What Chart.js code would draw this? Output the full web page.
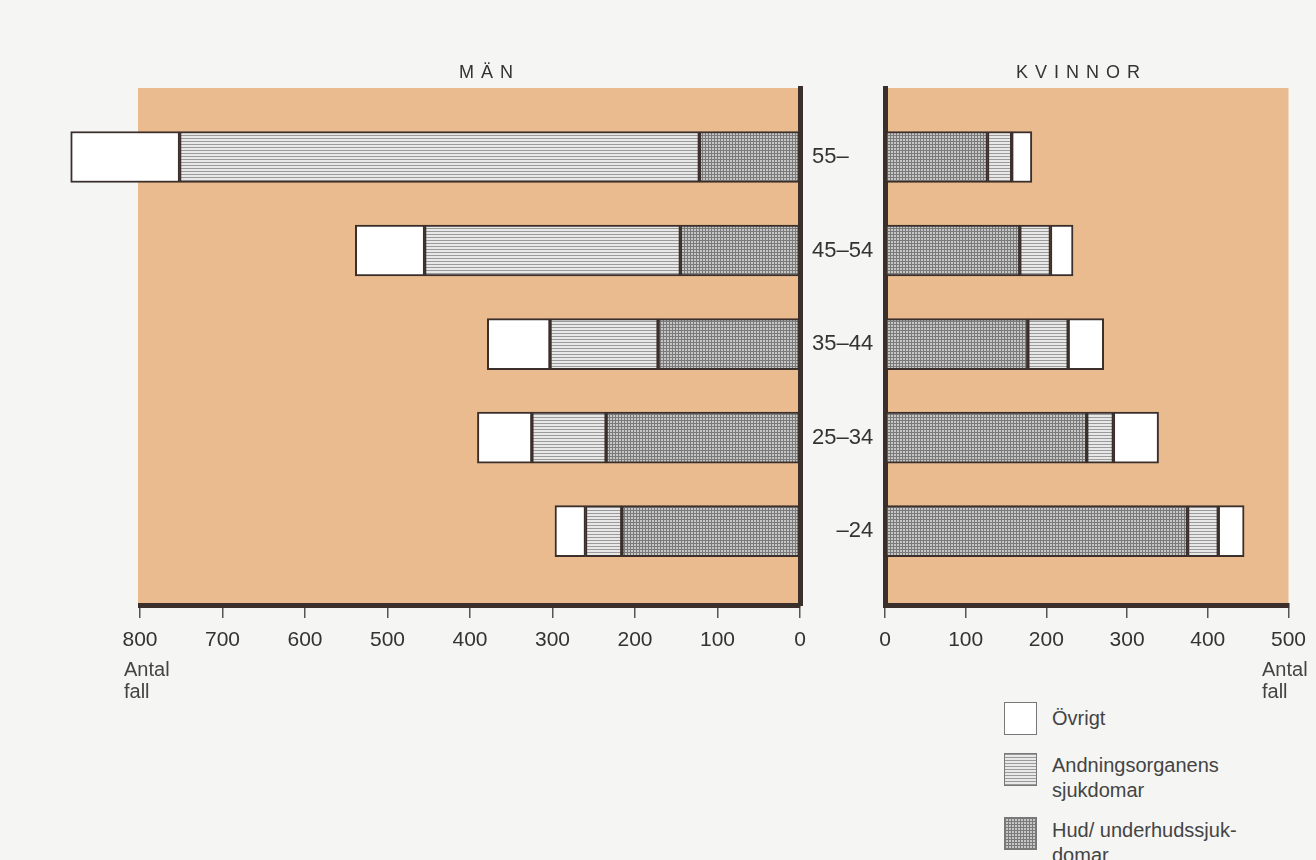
<!DOCTYPE html>
<html>
<head>
<meta charset="utf-8">
<script src="https://cdn.jsdelivr.net/npm/chart.js@4.4.1/dist/chart.umd.min.js"></script>
<style>
  body { margin: 0; width: 1316px; height: 860px; background: #f5f5f3; position: relative; overflow: hidden;
         font-family: "Liberation Sans", Arial, sans-serif; color: #333; }
  canvas { position: absolute; top: 0; }
  #men { left: 0; }
  #women { left: 860px; }
  .title { position: absolute; top: 62px; font-size: 18px; letter-spacing: 7px; color: #333; }
  .unit { position: absolute; font-size: 20px; line-height: 22px; color: #444; }
  .legend { position: absolute; left: 1004px; font-size: 20px; line-height: 25px; color: #444; }
  .legend .box { position: absolute; left: 0; width: 31px; height: 31px; border: 1px solid #777; }
  .legend .txt { position: absolute; left: 48px; white-space: nowrap; }
</style>
</head>
<body>
<canvas id="men" width="900" height="700"></canvas>
<canvas id="women" width="456" height="700"></canvas>

<div class="title" style="left:459px">MÄN</div>
<div class="title" style="left:1016px">KVINNOR</div>
<div class="unit" style="left:124px; top:658px">Antal<br>fall</div>
<div class="unit" style="left:1262px; top:658px">Antal<br>fall</div>

<div class="legend" style="top:702px"><div class="box" style="background:#fff"></div><div class="txt" style="top:4px">Övrigt</div></div>
<div class="legend" style="top:753px"><div class="box" style="background:repeating-linear-gradient(to bottom,#9a9a9a 0 1px,#e8e8e8 1px 3px)"></div><div class="txt" style="top:0">Andningsorganens<br>sjukdomar</div></div>
<div class="legend" style="top:817px"><div class="box" style="background:repeating-linear-gradient(to bottom,#7a7a7a 0 1px,transparent 1px 3px),repeating-linear-gradient(to right,#7a7a7a 0 1px,#c6c6c6 1px 3px)"></div><div class="txt" style="top:1px">Hud/ underhudssjuk-<br>domar</div></div>

<script>
// age groups, top to bottom
const ages = ['55–', '45–54', '35–44', '25–34', '    –24'];

// number of cases, men
const menHud = [122, 145, 172, 235, 216];
const menAndning = [630, 310, 131, 90, 44];
const menOvrigt = [132, 84, 76, 66, 37];

// number of cases, women
const womenHud = [127, 167, 177, 250, 375];
const womenAndning = [30, 38, 50, 33, 38];
const womenOvrigt = [25, 28, 44, 56, 32];

const menTicks = [0, 100, 200, 300, 400, 500, 600, 700, 800];
const womenTicks = [0, 100, 200, 300, 400, 500];

const ink = '#3a2f2b';
const panel = '#e9bb8f';

function tile(w, h, draw) {
    const c = document.createElement('canvas');
    c.width = w; c.height = h;
    const g = c.getContext('2d');
    draw(g);
    return g.createPattern(c, 'repeat');
}
// horizontal hatching
const andningFill = tile(3, 3, g => {
    g.fillStyle = '#e8e8e8'; g.fillRect(0, 0, 3, 3);
    g.fillStyle = '#9a9a9a'; g.fillRect(0, 0, 3, 1);
});
// fine grid
const hudFill = tile(3, 3, g => {
    g.fillStyle = '#c6c6c6'; g.fillRect(0, 0, 3, 3);
    g.fillStyle = '#7a7a7a'; g.fillRect(0, 0, 3, 1); g.fillRect(0, 0, 1, 3);
});

const panelBg = {
    id: 'panelBg',
    beforeDraw(chart) {
        const a = chart.chartArea, ctx = chart.ctx;
        ctx.save();
        ctx.fillStyle = panel;
        ctx.fillRect(a.left - 2, a.top, a.right - a.left + 2, a.bottom - a.top);
        ctx.restore();
    }
};

function series(values) {
    return values.map((v, i) => ({ x: v, y: i }));
}

function makeDatasets(hud, andning, ovrigt) {
    const common = { borderColor: ink, borderWidth: 2, borderSkipped: false, barThickness: 51, clip: false };
    return [
        Object.assign({ label: 'Hud/ underhudssjukdomar', data: series(hud), backgroundColor: hudFill }, common),
        Object.assign({ label: 'Andningsorganens sjukdomar', data: series(andning), backgroundColor: andningFill }, common),
        Object.assign({ label: 'Övrigt', data: series(ovrigt), backgroundColor: '#ffffff' }, common)
    ];
}

function xScale(max, reverse, tickValues) {
    return {
        type: 'linear', min: 0, max: max, reverse: reverse, stacked: true, bounds: 'data',
        afterBuildTicks: s => { s.ticks = tickValues.map(v => ({ value: v })); },
        afterFit: s => { s.height = 95; },
        border: { display: true, color: ink, width: 5 },
        grid: { drawOnChartArea: false, drawTicks: true, tickLength: 13, color: '#555', lineWidth: 1.5 },
        ticks: { color: '#333', padding: 10, font: { family: 'Liberation Sans', size: 21 } }
    };
}

function yScale(position, showLabels, width) {
    return {
        type: 'linear', position: position, reverse: true, stacked: true, bounds: 'data', offset: false,
        min: -0.738, max: 4.79,
        afterBuildTicks: s => { s.ticks = ages.map((a, i) => ({ value: i })); },
        afterFit: s => { s.width = width; },
        border: { display: true, color: ink, width: 5 },
        grid: { display: false, drawTicks: false, offset: false },
        ticks: {
            display: showLabels, padding: 12, color: '#333',
            font: { family: 'Liberation Sans', size: 22 },
            callback: v => ages[v]
        }
    };
}

const baseOptions = {
    indexAxis: 'y',
    responsive: false,
    animation: false,
    plugins: { legend: { display: false }, tooltip: { enabled: false }, title: { display: false } }
};

const menChart = new Chart(document.getElementById('men'), {
    type: 'bar',
    data: { datasets: makeDatasets(menHud, menAndning, menOvrigt) },
    options: Object.assign({}, baseOptions, {
        layout: { padding: { left: 140, top: 88, right: 0, bottom: 0 } },
        scales: { x: xScale(800, true, menTicks), y: yScale('right', true, 100) }
    }),
    plugins: [panelBg]
});

const womenChart = new Chart(document.getElementById('women'), {
    type: 'bar',
    data: { datasets: makeDatasets(womenHud, womenAndning, womenOvrigt) },
    options: Object.assign({}, baseOptions, {
        layout: { padding: { left: 25, top: 88, right: 21, bottom: 0 } },
        scales: { x: xScale(500, false, womenTicks), y: yScale('left', false, 0) }
    }),
    plugins: [panelBg]
});
</script>
</body>
</html>
